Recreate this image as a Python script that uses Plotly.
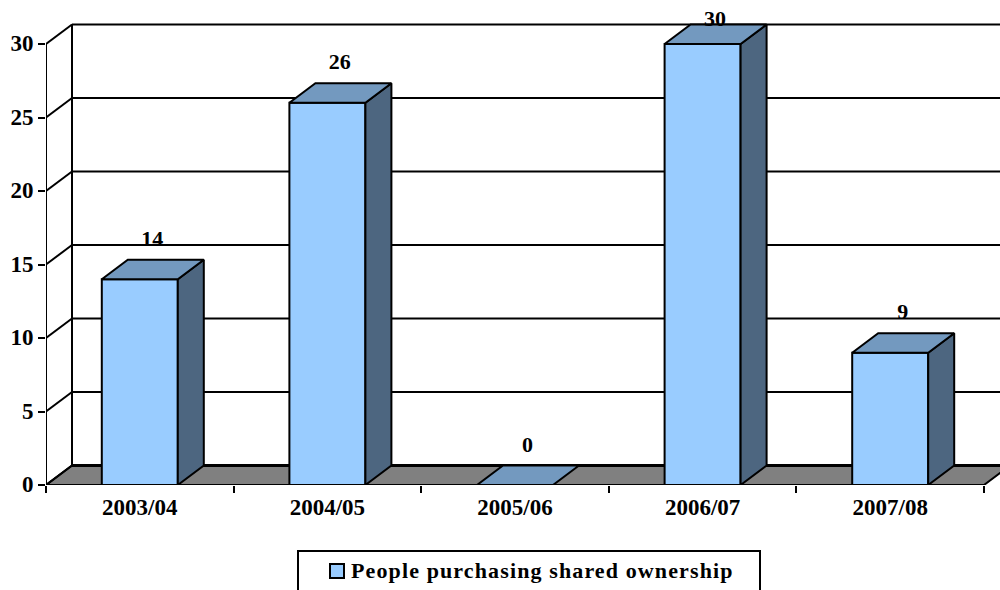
import plotly.graph_objects as go

categories = ["2003/04", "2004/05", "2005/06", "2006/07", "2007/08"]
purchases = [14, 26, 0, 30, 9]
y_ticks = [0, 5, 10, 15, 20, 25, 30]
series_name = "People purchasing shared ownership"

FRONT = "#99CCFF"
TOP = "#7399BF"
SIDE = "#4D6680"
FLOOR = "#808080"
INK = "#000000"
SERIF = "Liberation Serif"

# Pixel scale of the plot frame
LEFT, BASE, TOP_PX, RIGHT = 46, 485, 19, 1000
PX_PER_CAT = 187.6
PX_PER_UNIT = 14.7
# Oblique projection of the box depth, in data units
DX = 26 / PX_PER_CAT
DY = 19.5 / PX_PER_UNIT
BAR_W = 76 / PX_PER_CAT
X0 = -0.5
X1 = X0 + (RIGHT - LEFT) / PX_PER_CAT
Y1 = (BASE - TOP_PX) / PX_PER_UNIT
END = X0 + len(categories)


def px(x):
    return (x - LEFT) / (RIGHT - LEFT)


def py(y):
    return (BASE - y) / (BASE - TOP_PX)


def path(points):
    return "M" + " L".join(f"{a},{b}" for a, b in points) + " Z"


fig = go.Figure()

# Front faces
fig.add_bar(
    x=list(range(len(categories))), y=purchases, width=BAR_W, name=series_name,
    marker=dict(color=FRONT, line=dict(color=INK, width=2)), showlegend=False,
    hoverinfo="skip",
)

# Top and side faces of each box
for i, v in enumerate(purchases):
    l, r = i - BAR_W / 2, i + BAR_W / 2
    if v > 0:
        fig.add_scatter(
            x=[r, r + DX, r + DX, r, r], y=[0, DY, v + DY, v, 0], mode="lines",
            fill="toself", fillcolor=SIDE, line=dict(color=INK, width=2),
            showlegend=False, hoverinfo="skip", cliponaxis=False,
        )
    fig.add_scatter(
        x=[l, l + DX, r + DX, r, l], y=[v, v + DY, v + DY, v, v], mode="lines",
        fill="toself", fillcolor=TOP, line=dict(color=INK, width=2),
        showlegend=False, hoverinfo="skip", cliponaxis=False,
    )

# Front axis lines
fig.add_scatter(
    x=[X0, X0, None, X0, END], y=[y_ticks[-1], 0, None, 0, 0], mode="lines",
    line=dict(color=INK, width=2), showlegend=False, hoverinfo="skip", cliponaxis=False,
)

# Value labels sit above the box, held under the top of the frame
label_y = [min(v + 39 / PX_PER_UNIT, y_ticks[-1] + 24 / PX_PER_UNIT) for v in purchases]
fig.add_scatter(
    x=[i + DX / 2 - 0.003 for i in range(len(categories))], y=label_y, mode="text",
    text=[str(v) for v in purchases], textposition="middle center",
    textfont=dict(family=SERIF, size=22, color=INK),
    texttemplate="<b>%{text}</b>", showlegend=False, hoverinfo="skip", cliponaxis=False,
)

shapes = []
# Floor
shapes.append(dict(
    type="path", layer="below", xref="x", yref="y",
    path=path([(X0, 0), (X0 + DX, DY), (END + DX, DY), (END, 0)]),
    fillcolor=FLOOR, line=dict(color=INK, width=2),
))
# Back wall and side wall rules
for t in y_ticks:
    shapes.append(dict(
        type="line", layer="below", xref="x", yref="y",
        x0=X0 + DX, x1=END + DX, y0=t + DY, y1=t + DY,
        line=dict(color=INK, width=3 if t == 0 else 2),
    ))
    shapes.append(dict(
        type="line", layer="below", xref="x", yref="y",
        x0=X0, x1=X0 + DX, y0=t, y1=t + DY, line=dict(color=INK, width=2),
    ))
shapes.append(dict(
    type="line", layer="below", xref="x", yref="y",
    x0=X0 + DX, x1=X0 + DX, y0=DY, y1=y_ticks[-1] + DY, line=dict(color=INK, width=2),
))
# Legend frame and swatch
shapes.append(dict(
    type="rect", xref="paper", yref="paper", x0=px(298), x1=px(760), y0=py(600), y1=py(551),
    fillcolor="#FFFFFF", line=dict(color=INK, width=2),
))
shapes.append(dict(
    type="rect", xref="paper", yref="paper", x0=px(330), x1=px(344), y0=py(578), y1=py(564),
    fillcolor=FRONT, line=dict(color=INK, width=2),
))

fig.update_layout(
    width=1000, height=590,
    margin=dict(l=LEFT, r=1000 - RIGHT, t=TOP_PX, b=590 - BASE, pad=0),
    paper_bgcolor="#FFFFFF", plot_bgcolor="#FFFFFF",
    font=dict(family=SERIF, size=22, color=INK),
    showlegend=False, shapes=shapes,
    annotations=[dict(
        xref="paper", yref="paper", x=px(349), y=py(570), xanchor="left", yanchor="middle",
        text=f'<span style="letter-spacing:1.12px"><b>{series_name}</b></span>',
        showarrow=False, font=dict(family=SERIF, size=22, color=INK),
    )],
    xaxis=dict(
        range=[X0, X1], tickmode="array", tickvals=list(range(len(categories))),
        ticktext=[f"<b>{c}</b>" for c in categories], ticks="", showgrid=False,
        zeroline=False, showline=False, ticklabelstandoff=6,
        minor=dict(
            tickmode="array", tickvals=[X0 + i for i in range(len(categories) + 1)],
            ticks="outside", ticklen=7, tickwidth=2, tickcolor=INK, showgrid=False,
        ),
        tickfont=dict(family=SERIF, size=23, color=INK),
    ),
    yaxis=dict(
        range=[0, Y1], tickmode="array", tickvals=y_ticks,
        ticktext=[f"<b>{t}</b>" for t in y_ticks], ticks="outside", ticklen=7, tickwidth=2,
        tickcolor=INK, showgrid=False, zeroline=False, showline=False, ticklabelshift=-1,
        tickfont=dict(family=SERIF, size=23, color=INK),
    ),
)

fig.write_html("out.html", config=dict(displayModeBar=False))
